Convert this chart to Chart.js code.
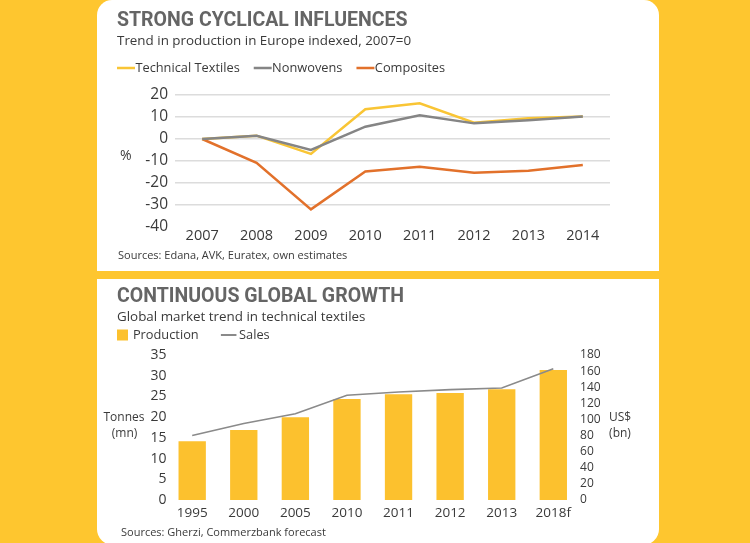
<!DOCTYPE html>
<html><head><meta charset="utf-8">
<script src="https://cdn.jsdelivr.net/npm/chart.js@4.4.1/dist/chart.umd.min.js"></script>
<style>
html,body{margin:0;padding:0;}
body{width:750px;height:543px;background:#FEC62F;position:relative;overflow:hidden;}
.panel{position:absolute;left:97px;width:562px;background:#fff;overflow:hidden;}
#p1{top:0;height:271px;border-radius:15px 15px 0 0;}
#p2{top:279px;height:266px;border-radius:0 0 16px 16px;}
canvas{display:block;}
</style></head><body>
<div class="panel" id="p1"><canvas id="c1" width="562" height="271"></canvas></div>
<div class="panel" id="p2"><canvas id="c2" width="562" height="266"></canvas></div>
<script>
// ---- Top chart data ----
const years = ['2007', '2008', '2009', '2010', '2011', '2012', '2013', '2014'];
const technicalTextiles = [0, 1.5, -6.8, 13.5, 16.2, 7.4, 9.4, 10.2];
const nonwovens = [0, 1.5, -5.0, 5.6, 10.8, 7.1, 8.5, 10.2];
const composites = [0, -10.8, -32.0, -14.8, -12.6, -15.3, -14.4, -11.8];
const indexMin = -40, indexMax = 20, indexStep = 10;

// ---- Bottom chart data ----
const periods = ['1995', '2000', '2005', '2010', '2011', '2012', '2013', '2018f'];
const production = [14.2, 16.9, 20.0, 24.4, 25.5, 25.8, 26.7, 31.4];
const sales = [80, 95, 107, 130, 134, 137, 139, 163];
const tonnesMin = 0, tonnesMax = 35, tonnesStep = 5;
const usdMin = 0, usdMax = 180, usdStep = 20;

// ---- Texts ----
const topTitle = 'STRONG CYCLICAL INFLUENCES';
const topSubtitle = 'Trend in production in Europe indexed, 2007=0';
const topSource = 'Sources: Edana, AVK, Euratex, own estimates';
const topUnit = '%';
const botTitle = 'CONTINUOUS GLOBAL GROWTH';
const botSubtitle = 'Global market trend in technical textiles';
const botSource = 'Sources: Gherzi, Commerzbank forecast';
const leftUnit = ['Tonnes', '(mn)'];
const rightUnit = ['US$', '(bn)'];

const BODY = "'Open Sans', 'Noto Sans', sans-serif";
const HEAD = "Roboto, 'DejaVu Sans', sans-serif";
const TXT = '#3a3a3a';
const TITLE_C = '#656565';

// Place the legend row precisely (only moves top/left edges so the clip box still contains it)
const legendPlace = {
  id: 'legendPlace',
  afterLayout(chart, args, o) {
    const l = chart.legend; if (!l) return;
    const dx = o.x - (l.left + o.pad);
    const dy = o.y - (l.top + o.pad + o.fs / 2);
    l.left += dx; l.top += dy;
    if (dy > 0) l.bottom += dy;
  }
};
const notes = {
  id: 'notes',
  afterDraw(chart, args, o) {
    const ctx = chart.ctx;
    ctx.save();
    (o.items || []).forEach(it => {
      ctx.font = it.font; ctx.fillStyle = it.color;
      ctx.textAlign = it.align || 'left'; ctx.textBaseline = 'middle';
      ctx.fillText(it.text, it.x, it.y);
    });
    ctx.restore();
  }
};

function lineLegend(chart) {
  return chart.data.datasets.map((d, i) => ({
    text: d.label, fillStyle: d.borderColor, strokeStyle: d.borderColor,
    lineWidth: d.borderWidth, pointStyle: 'line', fontColor: TXT,
    hidden: false, datasetIndex: i
  }));
}

new Chart(document.getElementById('c1'), {
  type: 'line',
  data: {
    labels: years,
    datasets: [
      { label: 'Technical Textiles', data: technicalTextiles, borderColor: '#F9C535', borderWidth: 2.5, order: 1 },
      { label: 'Nonwovens', data: nonwovens, borderColor: '#858585', borderWidth: 2.5, order: 0 },
      { label: 'Composites', data: composites, borderColor: '#E2712B', borderWidth: 2.5, order: 2 }
    ]
  },
  options: {
    responsive: false, animation: false, devicePixelRatio: 1,
    elements: { point: { radius: 0 }, line: { tension: 0, fill: false } },
    layout: { padding: { left: 20, right: 49, top: 0, bottom: 24 } },
    plugins: {
      title: { display: true, text: topTitle, align: 'start', color: TITLE_C,
        font: { family: HEAD, weight: 'bold', size: 19.5 }, padding: { top: 9.3, bottom: 0 } },
      subtitle: { display: true, text: topSubtitle, align: 'start', color: TXT,
        font: { family: BODY, size: 13.4 }, padding: { top: 0, bottom: 3.4 } },
      legend: { display: true, position: 'top', align: 'start',
        labels: { usePointStyle: true, boxWidth: 6, boxHeight: 12.7, padding: 20, color: TXT,
          font: { family: BODY, size: 12.8 }, generateLabels: lineLegend } },
      tooltip: { enabled: false },
      legendPlace: { x: 26, y: 68, pad: 20, fs: 12.8 },
      notes: { items: [
        { text: topUnit, x: 23, y: 156, font: '14px ' + BODY, color: TXT },
        { text: topSource, x: 21, y: 256, font: '11px ' + BODY, color: TXT }
      ] }
    },
    scales: {
      x: { offset: true, grid: { display: false }, border: { display: false },
        ticks: { color: TXT, font: { family: BODY, size: 14.5 }, padding: -8 },
        afterFit(s) { s.height = 20; } },
      y: { min: indexMin, max: indexMax,
        ticks: { stepSize: indexStep, autoSkip: false, color: TXT, font: { family: BODY, size: 15.5 }, padding: 7 },
        grid: { color: c => (c.tick && c.tick.value === indexMin) ? 'rgba(0,0,0,0)' : '#DCDCDC', lineWidth: 1.5, drawTicks: false },
        border: { display: false },
        afterFit(s) { s.width = 58; } }
    }
  },
  plugins: [legendPlace, notes]
});

new Chart(document.getElementById('c2'), {
  type: 'bar',
  data: {
    labels: periods,
    datasets: [
      { type: 'bar', label: 'Production', data: production, yAxisID: 'y', backgroundColor: '#FCC12E',
        barPercentage: 0.53, categoryPercentage: 1, order: 1 },
      { type: 'line', label: 'Sales', data: sales, yAxisID: 'y2', borderColor: '#8A8A8A', borderWidth: 1.6,
        pointRadius: 0, tension: 0, fill: false, order: 0 }
    ]
  },
  options: {
    responsive: false, animation: false, devicePixelRatio: 1,
    layout: { padding: { left: 20, right: 0, top: 0, bottom: 25 } },
    plugins: {
      title: { display: true, text: botTitle, align: 'start', color: TITLE_C,
        font: { family: HEAD, weight: 'bold', size: 19.5 }, padding: { top: 6.8, bottom: 0 } },
      subtitle: { display: true, text: botSubtitle, align: 'start', color: TXT,
        font: { family: BODY, size: 13.4 }, padding: { top: 0, bottom: 0 } },
      legend: { display: true, position: 'top', align: 'start', maxHeight: 29.7,
        labels: { usePointStyle: true, boxWidth: 8, boxHeight: 11, padding: 26, color: TXT,
          font: { family: BODY, size: 12.8 },
          generateLabels(chart) {
            return chart.data.datasets.map((d, i) => d.type === 'bar'
              ? { text: d.label, fillStyle: d.backgroundColor, strokeStyle: d.backgroundColor, lineWidth: 0,
                  pointStyle: 'rect', fontColor: TXT, hidden: false, datasetIndex: i }
              : { text: d.label, fillStyle: d.borderColor, strokeStyle: d.borderColor, lineWidth: 2.2,
                  pointStyle: 'line', fontColor: TXT, hidden: false, datasetIndex: i });
          } } },
      tooltip: { enabled: false },
      legendPlace: { x: 21.5, y: 56, pad: 26, fs: 12.8 },
      notes: { items: [
        { text: leftUnit[0], x: 27, y: 139, font: '12px ' + BODY, color: TXT, align: 'center' },
        { text: leftUnit[1], x: 27.5, y: 155, font: '12px ' + BODY, color: TXT, align: 'center' },
        { text: rightUnit[0], x: 523, y: 139, font: '12px ' + BODY, color: TXT, align: 'center' },
        { text: rightUnit[1], x: 523, y: 155, font: '12px ' + BODY, color: TXT, align: 'center' },
        { text: botSource, x: 24, y: 254, font: '11px ' + BODY, color: TXT }
      ] }
    },
    scales: {
      x: { offset: true, grid: { display: false }, border: { display: false },
        ticks: { color: TXT, font: { family: BODY, size: 13.5 }, padding: -3.4 },
        afterFit(s) { s.height = 20; } },
      y: { position: 'left', min: tonnesMin, max: tonnesMax,
        ticks: { stepSize: tonnesStep, autoSkip: false, color: TXT, font: { family: BODY, size: 14 }, padding: 0 },
        grid: { display: false, drawTicks: false }, border: { display: false },
        afterFit(s) { s.width = 49.4; } },
      y2: { position: 'right', min: usdMin, max: usdMax,
        ticks: { stepSize: usdStep, autoSkip: false, color: TXT, font: { family: BODY, size: 12 }, padding: 1 },
        grid: { display: false, drawTicks: false }, border: { display: false },
        afterFit(s) { s.width = 79.9; } }
    }
  },
  plugins: [legendPlace, notes]
});
</script>
</body></html>
